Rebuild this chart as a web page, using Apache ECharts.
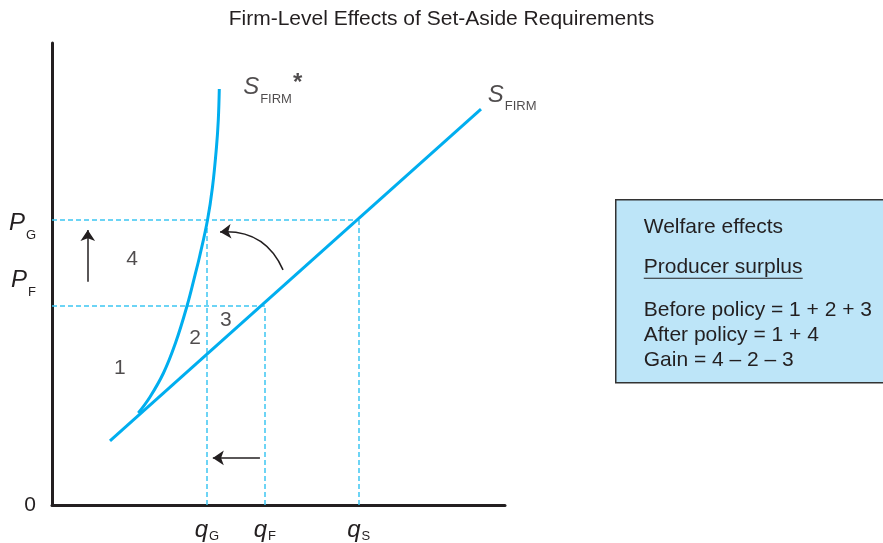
<!DOCTYPE html>
<html>
<head>
<meta charset="utf-8">
<script src="https://cdn.jsdelivr.net/npm/echarts@6/dist/echarts.min.js"></script>
<style>html,body{margin:0;padding:0;background:#fff;}#c{width:883px;height:543px;}</style>
</head>
<body>
<div id="c"></div>
<script>
// ---- data (conceptual units, 0..100 on both axes) ----
const sFirm = [[12.8, 13.9], [94.7, 85.7]];
const sFirmStar = [[19.05, 19.91], [21.63, 23.38], [24.61, 28.57], [27.26, 35.06], [29.80, 43.07], [31.57, 49.78],
                   [32.56, 53.68], [34.33, 61.69], [35.43, 68.83], [36.31, 77.49], [36.71, 83.33], [36.93, 90.04]];
const xTickValues = [34.2, 47.0, 67.7];      // qG, qF, qS
const xTickSubs = ['G', 'F', 'S'];
const yLevels = [43.2, 61.7];                // PF, PG (dashed guide levels)
const yLabelAt = [0, 47.5, 59.8];            // where the 0, PF, PG labels sit
const yLabelSubs = ['', 'F', 'G'];
const areaNames = ['1', '2', '3', '4'];
const areaPos = [[15.0, 29.7], [31.6, 36.1], [38.4, 40.0], [17.7, 53.2]];
const upArrow = [[7.9, 48.3], [7.9, 59.5]];
const leftArrow = [[45.9, 10.2], [35.5, 10.2]];
const curvedArrow = [[51.0, 50.9], [37.1, 59.1]];
const curveLabelPos = [[96.2, 87.6], [42.2, 89.3]];
const boxLines = ['Welfare effects', 'Producer surplus', 'Before policy = 1 + 2 + 3', 'After policy = 1 + 4', 'Gain = 4 \u2013 2 \u2013 3'];

const qG = xTickValues[0], qF = xTickValues[1], qS = xTickValues[2];
const PF = yLevels[0], PG = yLevels[1];
const guides = [
  [[0, PG], [qS, PG]],
  [[0, PF], [qF, PF]],
  [[qG, 0], [qG, PG]],
  [[qF, 0], [qF, PF]],
  [[qS, 0], [qS, PG]]
];

const FONT = '"Liberation Sans", Arial, Helvetica, sans-serif';
const INK = '#231f20';
const BLUE = '#00aeef';
const DASH = '#3cc6f2';

const mainRich = {fontFamily: FONT, fontSize: 24, fontStyle: 'italic', color: INK, lineHeight: 26, padding: [0, 0, 6, 0], verticalAlign: 'bottom'};
const mainRichX = Object.assign({}, mainRich, {padding: [0, 0, 1, 0]});
const subRich = {fontFamily: FONT, fontSize: 13, color: INK, lineHeight: 14, padding: [0, 0, 0, 1], verticalAlign: 'bottom'};

const chart = echarts.init(document.getElementById('c'), null, {renderer: 'canvas'});
const option = {
  animation: false,
  backgroundColor: '#fff',
  textStyle: {fontFamily: FONT, color: INK},
  title: {
    text: 'Firm-Level Effects of Set-Aside Requirements',
    left: 'center', top: 4,
    textStyle: {fontFamily: FONT, fontSize: 21, fontWeight: 'normal', color: INK}
  },
  grid: {left: 52, right: 378, top: 43, bottom: 38, containLabel: false, outerBoundsMode: 'none'},
  xAxis: {
    type: 'value', min: 0, max: 100,
    splitLine: {show: false},
    axisTick: {show: false},
    axisLine: {lineStyle: {color: INK, width: 3}},
    axisLabel: {
      customValues: xTickValues,
      margin: 12,
      formatter: function (v) {
        const i = xTickValues.indexOf(v);
        return '{q|q}{s|' + (i >= 0 ? xTickSubs[i] : '') + '}';
      },
      rich: {q: mainRichX, s: subRich}
    }
  },
  yAxis: {
    type: 'value', min: 0, max: 100,
    splitLine: {show: false},
    axisTick: {show: false},
    axisLine: {lineStyle: {color: INK, width: 3}},
    axisLabel: {
      customValues: yLabelAt,
      margin: 16,
      formatter: function (v) {
        const i = yLabelAt.indexOf(v);
        if (i <= 0) return '{z|0}';
        return '{p|P}{s|' + yLabelSubs[i] + '}';
      },
      rich: {
        z: {fontFamily: FONT, fontSize: 21, color: INK},
        p: mainRich, s: subRich
      }
    }
  },
  series: [
    {
      type: 'lines', coordinateSystem: 'cartesian2d', silent: true, z: 1,
      lineStyle: {color: DASH, width: 1.5, type: [5, 3], opacity: 1},
      data: guides.map(g => ({coords: g}))
    },
    {
      type: 'line', data: sFirm, showSymbol: false, z: 3,
      lineStyle: {color: BLUE, width: 3}
    },
    {
      type: 'line', data: sFirmStar, showSymbol: false, smooth: 0.4, z: 3,
      lineStyle: {color: BLUE, width: 3}
    },
    {
      type: 'lines', coordinateSystem: 'cartesian2d', silent: true, z: 4,
      symbol: ['none', 'arrow'], symbolSize: [0, 11],
      lineStyle: {color: INK, width: 1.5, opacity: 1},
      data: [{coords: upArrow}, {coords: leftArrow}]
    },
    {
      type: 'lines', coordinateSystem: 'cartesian2d', silent: true, z: 4,
      symbol: ['none', 'arrow'], symbolSize: [0, 11],
      lineStyle: {color: INK, width: 1.5, opacity: 1, curveness: -0.35},
      data: [{coords: curvedArrow}]
    },
    {
      type: 'scatter', symbolSize: 0, silent: true, z: 5,
      data: areaPos.map((p, i) => ({value: p, name: areaNames[i]})),
      label: {show: true, position: 'inside', formatter: '{b}', fontFamily: FONT, fontSize: 21, color: INK}
    },
    {
      type: 'scatter', symbolSize: 0, silent: true, z: 5,
      data: [
        {value: curveLabelPos[0], name: 'S', star: ''},
        {value: curveLabelPos[1], name: 'S', star: '*'}
      ],
      label: {
        show: true, position: 'right', distance: 0,
        formatter: function (p) {
          return '{s|S}{f|FIRM}' + (p.data.star ? '{t|*}' : '');
        },
        rich: {
          s: mainRich,
          f: subRich,
          t: {fontFamily: FONT, fontSize: 24, fontWeight: 'bold', color: INK, lineHeight: 26, padding: [0, 0, 10, 1], verticalAlign: 'bottom'}
        }
      }
    }
  ],
  graphic: [
    {
      type: 'group', left: 615, top: 199,
      children: [
        {type: 'rect', shape: {x: 0, y: 0, width: 275, height: 183}, style: {fill: '#bde5f8', stroke: '#333333', lineWidth: 1.5}},
        {type: 'text', x: 28, y: 27, style: {text: boxLines[0], font: '21px ' + FONT, fill: INK, verticalAlign: 'middle'}},
        {type: 'text', x: 28, y: 67, style: {text: boxLines[1], font: '21px ' + FONT, fill: INK, verticalAlign: 'middle'}},
        {type: 'line', shape: {x1: 28, y1: 78.5, x2: 187, y2: 78.5}, style: {stroke: INK, lineWidth: 1.2}},
        {type: 'text', x: 28, y: 110, style: {text: boxLines[2], font: '21px ' + FONT, fill: INK, verticalAlign: 'middle'}},
        {type: 'text', x: 28, y: 135, style: {text: boxLines[3], font: '21px ' + FONT, fill: INK, verticalAlign: 'middle'}},
        {type: 'text', x: 28, y: 160, style: {text: boxLines[4], font: '21px ' + FONT, fill: INK, verticalAlign: 'middle'}}
      ]
    }
  ]
};
chart.setOption(option);
</script>
</body>
</html>
